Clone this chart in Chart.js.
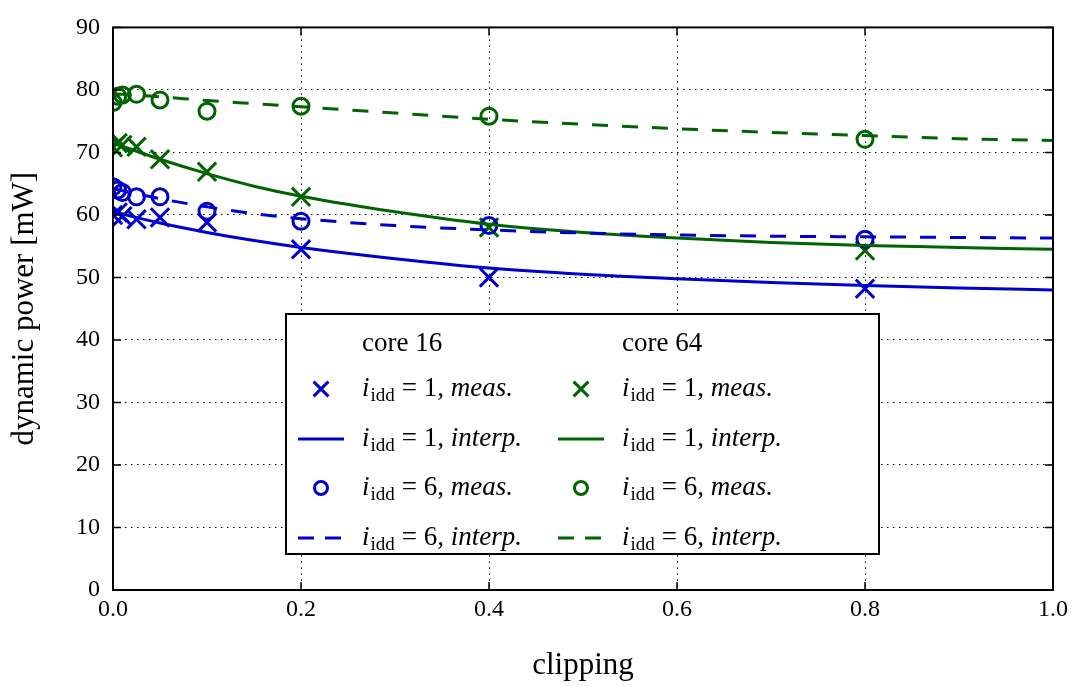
<!DOCTYPE html>
<html>
<head>
<meta charset="utf-8">
<script src="https://cdn.jsdelivr.net/npm/chart.js@4.4.1/dist/chart.umd.min.js"></script>
<style>
  html, body { margin: 0; padding: 0; background: #fff; }
  #wrap { width: 1074px; height: 686px; }
</style>
</head>
<body>
<div id="wrap"><canvas id="myChart" width="1074" height="686"></canvas></div>
<script>
"use strict";

// ========== DATA ==========
const measX = [0, 0.005, 0.01, 0.025, 0.05, 0.1, 0.2, 0.4, 0.8];
const core16Idd1Meas = [60.0, 60.4, 59.8, 59.3, 59.6, 58.8, 54.5, 50.0, 48.2];
const core16Idd6Meas = [64.5, 64.0, 63.6, 62.9, 62.9, 60.6, 59.0, 58.3, 56.1];
const core64Idd1Meas = [70.8, 71.5, 71.2, 70.9, 68.9, 66.9, 62.9, 58.0, 54.3];
const core64Idd6Meas = [78.0, 79.0, 79.2, 79.3, 78.4, 76.6, 77.4, 75.8, 72.1];

const interpX = [0, 0.05, 0.1, 0.15, 0.2, 0.3, 0.4, 0.5, 0.6, 0.7, 0.8, 0.9, 1.0];
const core16Idd1Interp = [60.5, 58.7, 57.2, 55.9, 54.8, 53.0, 51.5, 50.5, 49.8, 49.2, 48.7, 48.3, 48.0];
const core16Idd6Interp = [64.2, 62.6, 61.3, 60.2, 59.4, 58.3, 57.6, 57.1, 56.8, 56.6, 56.5, 56.4, 56.3];
const core64Idd1Interp = [71.5, 68.9, 66.6, 64.6, 63.0, 60.5, 58.5, 57.2, 56.3, 55.6, 55.1, 54.8, 54.5];
const core64Idd6Interp = [79.4, 78.9, 78.3, 77.8, 77.3, 76.3, 75.3, 74.5, 73.8, 73.2, 72.7, 72.2, 71.9];

const xTicks = [0, 0.2, 0.4, 0.6, 0.8, 1.0];
const yTicks = [0, 10, 20, 30, 40, 50, 60, 70, 80, 90];

const BLUE = "#0000cc";
const GREEN = "#006400";
const SERIF = "'Liberation Serif', 'DejaVu Serif', serif";
const DASH = [16, 14];

function pts(xs, ys) {
  return ys.map((y, i) => ({ x: xs[i], y: y }));
}

function lineSet(label, xs, ys, color, dashed) {
  return {
    label: label,
    data: pts(xs, ys),
    showLine: true,
    borderColor: color,
    borderWidth: 3,
    borderDash: dashed ? DASH : [],
    pointRadius: 0,
    cubicInterpolationMode: "monotone",
    fill: false,
    clip: 0
  };
}

function markSet(label, xs, ys, color, style) {
  return {
    label: label,
    data: pts(xs, ys),
    showLine: false,
    borderColor: color,
    borderWidth: 3,
    backgroundColor: "rgba(0,0,0,0)",
    pointStyle: style,
    pointRadius: style === "circle" ? 8 : 13,
    pointBorderWidth: 3,
    pointBorderColor: color,
    pointBackgroundColor: "rgba(0,0,0,0)",
    clip: 0
  };
}

// ========== KHUNG + VẠCH CHIA HƯỚNG VÀO ==========
const framePlugin = {
  id: "frame",
  afterDatasetsDraw(chart) {
    const { ctx, chartArea: a, scales } = chart;
    ctx.save();
    ctx.strokeStyle = "#000";
    ctx.lineWidth = 1.5;
    ctx.beginPath();
    yTicks.forEach(v => {
      const y = scales.y.getPixelForValue(v);
      ctx.moveTo(a.left, y); ctx.lineTo(a.left + 8, y);
      ctx.moveTo(a.right, y); ctx.lineTo(a.right - 8, y);
    });
    xTicks.forEach(v => {
      const x = scales.x.getPixelForValue(v);
      ctx.moveTo(x, a.bottom); ctx.lineTo(x, a.bottom - 8);
      ctx.moveTo(x, a.top); ctx.lineTo(x, a.top + 8);
    });
    ctx.stroke();
    ctx.lineWidth = 2;
    ctx.strokeRect(a.left, a.top, a.right - a.left, a.bottom - a.top);
    ctx.restore();
  }
};

// ========== CHÚ THÍCH HAI CỘT ==========
const legendCols = [
  { header: "core 16", color: BLUE, lineX: 298, textX: 362 },
  { header: "core 64", color: GREEN, lineX: 558, textX: 622 }
];
const legendRows = [
  { idd: "1", kind: "meas.", mark: "crossRot", y: 396 },
  { idd: "1", kind: "interp.", dash: false, y: 446 },
  { idd: "6", kind: "meas.", mark: "circle", y: 495 },
  { idd: "6", kind: "interp.", dash: true, y: 545 }
];

const legendPlugin = {
  id: "coreLegend",
  afterDraw(chart) {
    const ctx = chart.ctx;
    ctx.save();
    ctx.fillStyle = "#fff";
    ctx.fillRect(286, 314, 593, 240);
    ctx.strokeStyle = "#000";
    ctx.lineWidth = 2;
    ctx.strokeRect(286, 314, 593, 240);

    ctx.textBaseline = "alphabetic";
    ctx.textAlign = "left";
    legendCols.forEach(col => {
      ctx.fillStyle = "#000";
      ctx.font = "27px " + SERIF;
      ctx.fillText(col.header, col.textX, 351);

      legendRows.forEach(row => {
        const cx = col.lineX + 23;
        const my = row.y - 7;
        ctx.strokeStyle = col.color;
        if (row.mark) {
          ctx.fillStyle = "rgba(0,0,0,0)";
          ctx.lineWidth = 3;
          Chart.helpers.drawPoint(ctx, {
            pointStyle: row.mark,
            radius: row.mark === "circle" ? 6.5 : 10.5,
            borderWidth: 3,
            rotation: 0
          }, cx, my);
        } else {
          ctx.lineWidth = 3;
          ctx.setLineDash(row.dash ? [16, 11] : []);
          ctx.beginPath();
          ctx.moveTo(col.lineX, my);
          ctx.lineTo(col.lineX + 46, my);
          ctx.stroke();
          ctx.setLineDash([]);
        }

        ctx.fillStyle = "#000";
        let x = col.textX;
        ctx.font = "italic 27px " + SERIF;
        ctx.fillText("i", x, row.y);
        x += ctx.measureText("i").width + 1;
        ctx.font = "19px " + SERIF;
        ctx.fillText("idd", x, row.y + 5);
        x += ctx.measureText("idd").width + 7;
        ctx.font = "27px " + SERIF;
        const mid = "= " + row.idd + ", ";
        ctx.fillText(mid, x, row.y);
        x += ctx.measureText(mid).width;
        ctx.font = "italic 27px " + SERIF;
        ctx.fillText(row.kind, x, row.y);
      });
    });
    ctx.restore();
  }
};

// ========== BIỂU ĐỒ ==========
const ctx = document.getElementById("myChart").getContext("2d");
new Chart(ctx, {
  type: "scatter",
  data: {
    datasets: [
      lineSet("core 16, idd=1, interp.", interpX, core16Idd1Interp, BLUE, false),
      lineSet("core 16, idd=6, interp.", interpX, core16Idd6Interp, BLUE, true),
      lineSet("core 64, idd=1, interp.", interpX, core64Idd1Interp, GREEN, false),
      lineSet("core 64, idd=6, interp.", interpX, core64Idd6Interp, GREEN, true),
      markSet("core 16, idd=1, meas.", measX, core16Idd1Meas, BLUE, "crossRot"),
      markSet("core 16, idd=6, meas.", measX, core16Idd6Meas, BLUE, "circle"),
      markSet("core 64, idd=1, meas.", measX, core64Idd1Meas, GREEN, "crossRot"),
      markSet("core 64, idd=6, meas.", measX, core64Idd6Meas, GREEN, "circle")
    ]
  },
  options: {
    responsive: false,
    animation: false,
    layout: { padding: { top: 18, right: 21, left: 0, bottom: 0 } },
    plugins: {
      legend: { display: false },
      tooltip: { enabled: false }
    },
    scales: {
      x: {
        type: "linear",
        min: 0,
        max: 1,
        afterBuildTicks: s => { s.ticks = xTicks.map(v => ({ value: v })); },
        afterFit: s => { s.height = 96; },
        ticks: {
          color: "#000",
          padding: 5,
          maxRotation: 0,
          font: { family: SERIF, size: 24 },
          callback: v => v.toFixed(1)
        },
        grid: { color: "#000", lineWidth: 1, drawTicks: false },
        border: { display: false, dash: [1.5, 4.5] },
        title: {
          display: true,
          text: "clipping",
          color: "#000",
          font: { family: SERIF, size: 31 },
          padding: { top: 0, bottom: 2 }
        }
      },
      y: {
        type: "linear",
        min: 0,
        max: 90,
        afterBuildTicks: s => { s.ticks = yTicks.map(v => ({ value: v })); },
        afterFit: s => { s.width = 113; },
        ticks: {
          color: "#000",
          padding: 13,
          font: { family: SERIF, size: 24 }
        },
        grid: { color: "#000", lineWidth: 1, drawTicks: false },
        border: { display: false, dash: [1.5, 4.5] },
        title: {
          display: true,
          text: "dynamic power [mW]",
          color: "#000",
          font: { family: SERIF, size: 31 },
          padding: { top: 6, bottom: 0 }
        }
      }
    }
  },
  plugins: [framePlugin, legendPlugin]
});
</script>
</body>
</html>
